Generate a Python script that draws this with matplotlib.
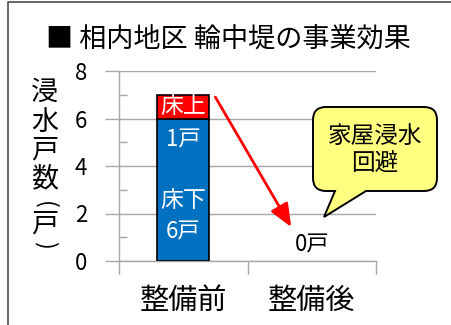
import matplotlib
matplotlib.use("Agg")
import matplotlib.pyplot as plt
from matplotlib.path import Path
from matplotlib.patches import PathPatch
from matplotlib.lines import Line2D

plt.rcParams['font.family'] = ['Noto Sans CJK JP', 'DejaVu Sans']

# --- data ---
categories = ['整備前', '整備後']
below_floor = [6, 0]   # 床下浸水 (戸)
above_floor = [1, 0]   # 床上浸水 (戸)
y_ticks = [0, 2, 4, 6, 8]
title = '■ 相内地区 輪中堤の事業効果'
y_label = ['浸', '水', '戸', '数', '(', '戸', ')']
callout_text = '家屋浸水\n回避'

W, H = 452, 325
DPI = 100
fig = plt.figure(figsize=(W / DPI, H / DPI), dpi=DPI)
fig.patch.set_facecolor('white')


def fx(px):
    return px / W


def fy(py):
    return 1 - py / H


# outer frame (left and top edges)
fig.add_artist(Line2D([fx(8), fx(8), fx(W + 5)], [fy(H + 5), fy(2), fy(2)],
                      transform=fig.transFigure, color='#595959', lw=1.3))

ax = fig.add_axes([fx(119), fy(261), fx(376) - fx(119), fy(71) - fy(261)])

x = list(range(len(categories)))
totals = [b + a for b, a in zip(below_floor, above_floor)]
blue = '#0070C0'
red = '#FF0000'
bw = 0.405

ax.bar(x, below_floor, width=bw, color=blue,
       edgecolor=['black' if v > 0 else 'none' for v in below_floor],
       linewidth=1.2, zorder=3)
ax.bar(x, above_floor, bottom=below_floor, width=bw, color=red,
       edgecolor=['black' if v > 0 else 'none' for v in above_floor],
       linewidth=1.2, zorder=3)

ax.set_xlim(-0.5, len(categories) - 0.5)
ax.set_ylim(0, 8)

grid_c = '#A6A6A6'
ax.set_yticks(y_ticks)
ax.set_yticks([1, 3, 5, 7], minor=True)
ax.set_yticklabels([str(v) for v in y_ticks], fontsize=16)
ax.tick_params(axis='y', which='major', direction='out', length=10,
               color=grid_c, width=1, pad=13)
ax.tick_params(axis='y', which='minor', direction='in', length=6,
               color=grid_c, width=1)
ax.grid(axis='y', which='major', color=grid_c, lw=1, zorder=0)

ax.set_xticks(x)
ax.set_xticklabels(categories, fontsize=21)
ax.set_xticks([-0.5, 0.5, 1.5], minor=True)
ax.tick_params(axis='x', which='major', length=0, pad=18)
ax.tick_params(axis='x', which='minor', direction='out', length=9,
               color=grid_c, width=1)

for s in ['top', 'right']:
    ax.spines[s].set_visible(False)
for s in ['left', 'bottom']:
    ax.spines[s].set_color(grid_c)
    ax.spines[s].set_linewidth(1)
ax.set_facecolor('none')

# bar labels
for xi, b, a, t in zip(x, below_floor, above_floor, totals):
    if t == 0:
        ax.text(xi, t + 0.67, f'{t}戸', ha='center', va='center',
                fontsize=16, color='black', zorder=4)
        continue
    ax.text(xi, b + a / 2, '床上', ha='center', va='center',
            fontsize=16.5, color='white', zorder=4)
    ax.text(xi, b - 0.9, f'{a}戸', ha='center', va='center',
            fontsize=16, color='white', zorder=4)
    ax.text(xi, b * 0.423, '床下', ha='center', va='center',
            fontsize=16.5, color='white', zorder=4)
    ax.text(xi, b * 0.205, f'{b}戸', ha='center', va='center',
            fontsize=16, color='white', zorder=4)

# arrow from before to after
ax.annotate('', xy=(0.84, 1.43), xytext=(0.25, 6.9),
            arrowprops=dict(arrowstyle='-|>,head_length=1.0,head_width=0.42',
                            mutation_scale=14, color=red, lw=2,
                            shrinkA=0, shrinkB=0),
            zorder=5)

# title
fig.text(fx(46), fy(39), title, ha='left', va='center', fontsize=19.5)

# vertical y-axis label (brackets turned for vertical writing)
label_y = [92, 122, 150, 179, 205, 224, 245]
for ch, py in zip(y_label, label_y):
    if ch in '()':
        fig.text(fx(45), fy(py), ch, ha='center', va='center',
                 fontsize=17, rotation=-90)
    else:
        fig.text(fx(45), fy(py), ch, ha='center', va='center',
                 fontsize=19.5)

# speech bubble
x0, x1, y0, y1, r = 313, 437, 107, 191, 13
xa, xb, tip = 335, 366, (324, 217)
pts = [
    ((x0 + r, y0), Path.MOVETO),
    ((x1 - r, y0), Path.LINETO),
    ((x1, y0), Path.CURVE3), ((x1, y0 + r), Path.CURVE3),
    ((x1, y1 - r), Path.LINETO),
    ((x1, y1), Path.CURVE3), ((x1 - r, y1), Path.CURVE3),
    ((xb, y1), Path.LINETO),
    (tip, Path.LINETO),
    ((xa, y1), Path.LINETO),
    ((x0 + r, y1), Path.LINETO),
    ((x0, y1), Path.CURVE3), ((x0, y1 - r), Path.CURVE3),
    ((x0, y0 + r), Path.LINETO),
    ((x0, y0), Path.CURVE3), ((x0 + r, y0), Path.CURVE3),
    ((x0 + r, y0), Path.CLOSEPOLY),
]
verts = [(fx(px), fy(py)) for (px, py), _ in pts]
codes = [c for _, c in pts]
bubble = PathPatch(Path(verts, codes), facecolor='#FFFF80', edgecolor='black',
                   lw=1.4, transform=fig.transFigure, zorder=6)
fig.add_artist(bubble)
fig.text(fx(375), fy(150), callout_text, ha='center', va='center',
         fontsize=17, linespacing=1.25, zorder=7)

fig.savefig('out.png', dpi=DPI)
